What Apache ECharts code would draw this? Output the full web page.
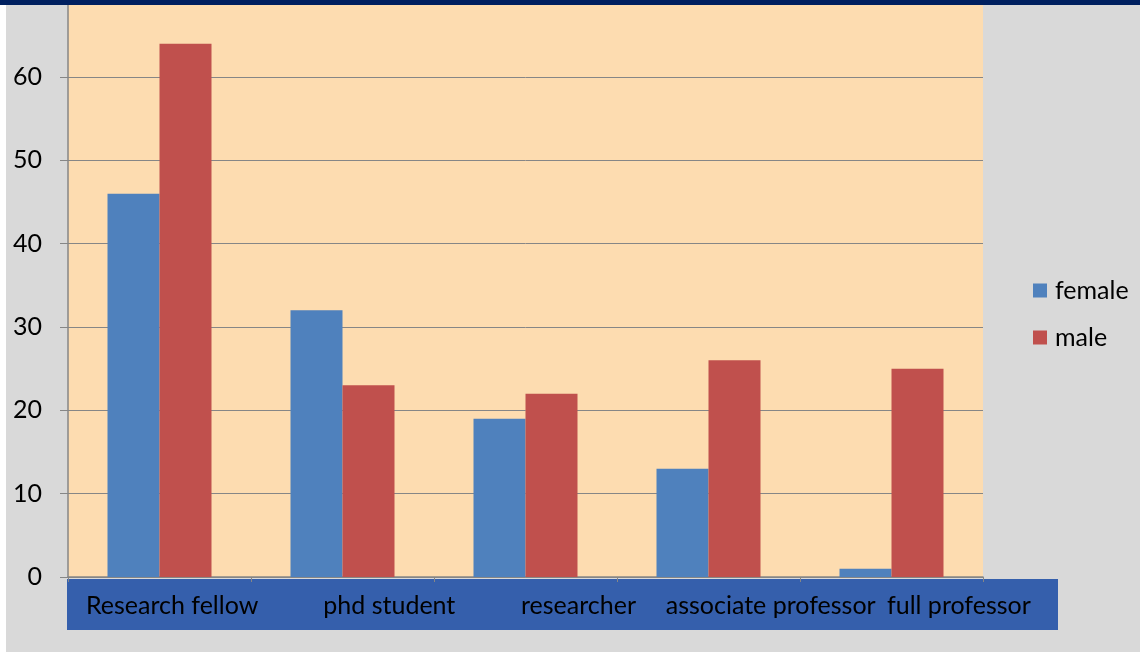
<!DOCTYPE html>
<html><head><meta charset="utf-8">
<script src="https://cdn.jsdelivr.net/npm/echarts@6/dist/echarts.min.js"></script>
<style>html,body{margin:0;padding:0;background:#ffffff;}#c{width:1140px;height:652px;}</style>
</head><body><div id="c"></div>
<script>
var categories = ['Research fellow', 'phd student', 'researcher', 'associate professor', 'full professor'];
var female = [46, 32, 19, 13, 1];
var male = [64, 23, 22, 26, 25];
var yTicks = [0, 10, 20, 30, 40, 50, 60];
var yTop = 69.24;

var labelShift = [6, 25, 16, 10, 0];
var FONT = 'Lato';
var FS = 25;
var chart = echarts.init(document.getElementById('c'));
chart.setOption({
  animation: false,
  textStyle: {fontFamily: FONT},
  graphic: [
    {type: 'rect', z: -10, shape: {x: 6, y: 0, width: 1134, height: 652}, style: {fill: '#d9d9d9'}},
    {type: 'rect', z: 100, shape: {x: 0, y: 0, width: 1140, height: 5}, style: {fill: '#002060'}}
  ],
  grid: [
    {left: 68, right: 157, top: 0, bottom: 75, show: true, backgroundColor: '#fddcb0', borderWidth: 0},
    {left: 67, right: 82, top: 579, height: 51, show: true, backgroundColor: '#355fac', borderWidth: 0}
  ],
  legend: {
    left: 1028, top: 273, orient: 'vertical', itemWidth: 14, itemHeight: 14, itemGap: 22,
    textStyle: {fontSize: FS, color: '#000', fontFamily: FONT, padding: [0, 0, 0, 3]}, icon: 'rect',
    data: ['female', 'male']
  },
  xAxis: [
    {type: 'category', gridIndex: 0, data: categories,
     axisLine: {lineStyle: {color: '#868686', width: 1.5}},
     axisTick: {show: true, length: 5, lineStyle: {color: '#868686'}},
     axisLabel: {show: false}},
    {type: 'category', gridIndex: 1, position: 'top',
     data: categories.map(function (c, i) {
       return {value: c, textStyle: {padding: [0, 0, 0, labelShift[i] * 2]}};
     }),
     axisLine: {show: false}, axisTick: {show: false},
     axisLabel: {inside: true, margin: 14, fontSize: FS, color: '#000', fontFamily: FONT, interval: 0}}
  ],
  yAxis: [
    {type: 'value', gridIndex: 0, min: yTicks[0], max: yTop, interval: yTicks[1] - yTicks[0],
     axisLine: {show: true, lineStyle: {color: '#868686', width: 1.5}},
     axisTick: {show: true, length: 8, lineStyle: {color: '#868686'}},
     axisLabel: {margin: 26, fontSize: FS, color: '#000', fontFamily: FONT, showMaxLabel: false},
     splitLine: {lineStyle: {color: '#868686', width: 1}}},
    {type: 'value', gridIndex: 1, show: false}
  ],
  series: [
    {name: 'female', type: 'bar', xAxisIndex: 0, yAxisIndex: 0, data: female, barWidth: 52, barGap: '0%',
     itemStyle: {color: '#4f81bd'}},
    {name: 'male', type: 'bar', xAxisIndex: 0, yAxisIndex: 0, data: male, barWidth: 52, barGap: '0%',
     itemStyle: {color: '#c0504d'}}
  ]
});
</script></body></html>
